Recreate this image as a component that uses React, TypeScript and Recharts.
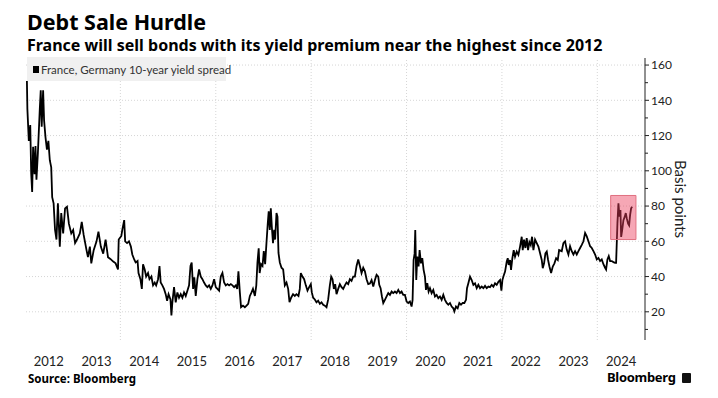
import React from 'react'
import {
  LineChart, Line, XAxis, YAxis, ReferenceLine, ReferenceArea,
} from 'recharts'

// France-Germany 10y spread, bp ([decimal year, bp])
const spread2012_13: [number, number][] = [
  [2012.04, 151], [2012.05, 135], [2012.08, 117], [2012.11, 126], [2012.13, 98.5],
  [2012.15, 88], [2012.17, 113.6], [2012.2, 98], [2012.22, 114], [2012.24, 95],
  [2012.27, 110], [2012.31, 135], [2012.33, 145.7], [2012.35, 125], [2012.38, 145.7],
  [2012.4, 128.7], [2012.43, 119], [2012.46, 112], [2012.49, 117], [2012.52, 106],
  [2012.55, 102], [2012.57, 85], [2012.6, 81.5], [2012.63, 66.4], [2012.66, 61],
  [2012.69, 81.5], [2012.73, 57], [2012.76, 76], [2012.8, 64.5], [2012.84, 78.7],
  [2012.88, 79.6], [2012.92, 70], [2012.97, 64.5], [2013.01, 66.4], [2013.05, 59],
  [2013.09, 61], [2013.15, 64.5], [2013.19, 71], [2013.23, 63.6], [2013.29, 55],
  [2013.32, 51], [2013.36, 57], [2013.39, 47.5], [2013.44, 55], [2013.5, 60],
  [2013.54, 65.5], [2013.59, 57], [2013.64, 53], [2013.69, 61], [2013.74, 51],
  [2013.79, 50], [2013.85, 48.5], [2013.9, 47.5], [2013.95, 44], [2013.965, 61],
]

const spread2014_16: [number, number][] = [
  [2014.02, 63], [2014.04, 66.5], [2014.08, 72], [2014.1, 60], [2014.14, 59],
  [2014.18, 60], [2014.22, 57], [2014.25, 52.5], [2014.29, 49.7], [2014.32, 48],
  [2014.36, 48.8], [2014.38, 42], [2014.42, 38.5], [2014.45, 33], [2014.475, 47],
  [2014.51, 44], [2014.54, 40], [2014.58, 42], [2014.61, 38.5], [2014.65, 40],
  [2014.685, 35], [2014.72, 36.6], [2014.75, 35], [2014.79, 38.5], [2014.82, 46],
  [2014.845, 36.6], [2014.88, 35], [2014.915, 33], [2014.95, 30], [2014.98, 26.3],
  [2015.01, 30], [2015.05, 27], [2015.07, 18], [2015.09, 25.4], [2015.125, 34],
  [2015.16, 25.4], [2015.195, 31], [2015.23, 28], [2015.265, 30], [2015.3, 28],
  [2015.335, 31], [2015.37, 29], [2015.405, 32], [2015.44, 35], [2015.47, 46],
  [2015.495, 48], [2015.525, 33], [2015.55, 39.5], [2015.58, 29], [2015.615, 38.5],
  [2015.65, 44], [2015.685, 40], [2015.72, 38.5], [2015.755, 36.6], [2015.79, 35],
  [2015.825, 34], [2015.86, 35], [2015.895, 33], [2015.93, 35], [2015.965, 38.5],
  [2016.0, 34], [2016.035, 33], [2016.07, 32], [2016.105, 40], [2016.14, 42],
  [2016.175, 36.6], [2016.21, 35], [2016.245, 35.7], [2016.28, 35], [2016.315, 35.7],
  [2016.35, 35], [2016.385, 34], [2016.42, 35], [2016.45, 33], [2016.475, 43],
  [2016.505, 31], [2016.53, 22.6], [2016.57, 23.5], [2016.61, 22.6], [2016.645, 23.5],
  [2016.68, 24.5], [2016.715, 29], [2016.75, 31], [2016.78, 33], [2016.82, 29],
  [2016.85, 35], [2016.874, 48], [2016.9, 56], [2016.92, 42], [2016.95, 47], [2016.98, 46],
]

const spread2017_19: [number, number][] = [
  [2017.007, 54.4], [2017.035, 47], [2017.063, 59], [2017.09, 70], [2017.11, 77],
  [2017.133, 66.5], [2017.154, 78.7], [2017.175, 68.4], [2017.2, 59], [2017.224, 66.5],
  [2017.245, 61], [2017.273, 76], [2017.294, 74], [2017.315, 53.4], [2017.343, 48],
  [2017.378, 45], [2017.413, 44], [2017.448, 35], [2017.483, 36.6], [2017.518, 33],
  [2017.546, 25.4], [2017.58, 28], [2017.62, 30], [2017.657, 29], [2017.692, 30],
  [2017.734, 29], [2017.762, 33], [2017.783, 42], [2017.818, 40], [2017.853, 38.5],
  [2017.888, 35], [2017.923, 32], [2017.958, 34], [2017.993, 35.7], [2018.014, 31],
  [2018.042, 28], [2018.077, 27], [2018.112, 25.4], [2018.147, 26.3], [2018.182, 24.5],
  [2018.217, 25.4], [2018.252, 24], [2018.287, 23.5], [2018.322, 22.6], [2018.357, 27],
  [2018.392, 35], [2018.42, 40], [2018.448, 38.5], [2018.476, 33], [2018.504, 35.7],
  [2018.532, 30], [2018.567, 33], [2018.602, 35.7], [2018.637, 34], [2018.672, 33],
  [2018.707, 35], [2018.742, 36.6], [2018.777, 35.7], [2018.812, 38.5], [2018.847, 37.5],
  [2018.882, 40], [2018.917, 40], [2018.952, 46], [2018.987, 49.7], [2019.022, 46],
  [2019.057, 42], [2019.092, 45], [2019.127, 43], [2019.162, 38.5], [2019.197, 35.7],
  [2019.232, 36], [2019.267, 38], [2019.302, 34.3], [2019.337, 38], [2019.372, 41],
  [2019.407, 40], [2019.428, 35.3], [2019.456, 33.4], [2019.484, 28.7], [2019.512, 25],
  [2019.547, 26.8], [2019.582, 28.7], [2019.617, 30.6], [2019.652, 29.6], [2019.687, 31.5],
  [2019.722, 30.6], [2019.757, 31.5], [2019.792, 30.6], [2019.827, 32.4], [2019.862, 30.6],
  [2019.896, 31.5], [2019.931, 29.6], [2019.966, 29.6],
]

const spread2020_22: [number, number][] = [
  [2020.001, 25.8], [2020.036, 25], [2020.071, 25.8], [2020.106, 23], [2020.127, 26.8],
  [2020.148, 49.4], [2020.169, 53], [2020.183, 66.4], [2020.204, 38], [2020.225, 51.3],
  [2020.253, 45.7], [2020.274, 55], [2020.302, 47.5], [2020.33, 50.4], [2020.358, 43.8],
  [2020.386, 40], [2020.407, 32.4], [2020.435, 36.2], [2020.463, 31.5], [2020.491, 33.4],
  [2020.526, 30.6], [2020.561, 32.4], [2020.596, 28.7], [2020.631, 29.6], [2020.666, 27.7],
  [2020.701, 28.7], [2020.736, 26.8], [2020.771, 29.6], [2020.806, 26.8], [2020.841, 25],
  [2020.876, 24], [2020.911, 25], [2020.946, 23], [2020.981, 22], [2021.002, 20.2],
  [2021.037, 23], [2021.072, 22], [2021.107, 25], [2021.142, 24], [2021.177, 25],
  [2021.212, 25], [2021.247, 26.8], [2021.268, 33.4], [2021.296, 36.2], [2021.331, 40],
  [2021.366, 38], [2021.401, 35.3], [2021.436, 36.2], [2021.471, 33.4], [2021.506, 35.3],
  [2021.541, 33.4], [2021.576, 34.3], [2021.611, 33.4], [2021.646, 34.7], [2021.681, 33.4],
  [2021.716, 34.3], [2021.751, 34], [2021.786, 35.3], [2021.821, 34.3], [2021.856, 36.2],
  [2021.891, 35.3], [2021.926, 37], [2021.961, 38], [2021.989, 32], [2022.01, 38],
  [2022.031, 40], [2022.066, 42.8], [2022.101, 48.5], [2022.122, 50.4], [2022.142, 46.6],
  [2022.17, 49.4], [2022.191, 43.8], [2022.219, 50.4], [2022.247, 55], [2022.275, 51.3],
  [2022.31, 54.2], [2022.345, 52.3], [2022.38, 57], [2022.415, 62.6], [2022.436, 55],
  [2022.464, 61], [2022.492, 56.2], [2022.52, 61.8], [2022.548, 55], [2022.576, 59.6],
  [2022.604, 57.9], [2022.632, 62.6], [2022.66, 55], [2022.695, 61], [2022.73, 59],
  [2022.765, 57], [2022.8, 53.2], [2022.835, 49.4], [2022.856, 44.7], [2022.884, 47.5],
  [2022.912, 53.2], [2022.94, 54.2], [2022.968, 49.4], [2022.996, 45.7],
]

const spread2023_24: [number, number][] = [
  [2023.031, 42], [2023.066, 45.7], [2023.101, 47.5], [2023.136, 50.4], [2023.171, 49.4],
  [2023.199, 55], [2023.254, 54.4], [2023.289, 59], [2023.324, 60], [2023.359, 55.3],
  [2023.394, 52.5], [2023.429, 57.2], [2023.464, 54.4], [2023.499, 52.5], [2023.534, 54.4],
  [2023.569, 52.5], [2023.604, 54.4], [2023.639, 56.2], [2023.674, 58], [2023.709, 60],
  [2023.744, 64.7], [2023.779, 62.8], [2023.814, 60], [2023.849, 57.2], [2023.884, 56.2],
  [2023.919, 54.4], [2023.954, 52.5], [2023.989, 49.7], [2024.024, 50.6], [2024.058, 48.8],
  [2024.093, 49.7], [2024.128, 47], [2024.163, 45], [2024.184, 44], [2024.212, 49.7],
  [2024.24, 51.6], [2024.268, 48.8], [2024.303, 48.8], [2024.338, 48.2], [2024.373, 47.8],
  [2024.394, 47.8], [2024.408, 59], [2024.422, 70.3], [2024.443, 81.5], [2024.464, 74],
  [2024.485, 77.8], [2024.5, 62.5], [2024.52, 66], [2024.548, 72], [2024.576, 74],
  [2024.597, 76], [2024.618, 73], [2024.646, 70], [2024.667, 69], [2024.688, 75],
  [2024.709, 78.7], [2024.73, 79.6],
]

const yearLabels = [2012, 2013, 2014, 2015, 2016, 2017, 2018, 2019, 2020, 2021, 2022, 2023, 2024]
const gridYears = [2014, 2016, 2018, 2020, 2022, 2024]
const yMajor = [20, 40, 60, 80, 100, 120, 140, 160]
const yTicks = [10, 20, 30, 40, 50, 60, 70, 80, 90, 100, 110, 120, 130, 140, 150, 160]
// highlighted window: snap election
const highlight = { x1: 2024.28, x2: 2024.81, y1: 61, y2: 86 }

const data = [...spread2012_13, ...spread2014_16, ...spread2017_19, ...spread2020_22, ...spread2023_24]
  .map(([t, v]) => ({ t, v }))

const FONT = 'Lato, "Open Sans", sans-serif'
const TITLE_FONT = '"Noto Sans", Roboto, sans-serif'

// eslint-disable-next-line @typescript-eslint/no-explicit-any
const YTick = ({ x, y, payload }: any) => {
  const major = payload.value % 20 === 0
  return (
    <g>
      <line x1={x} x2={x + (major ? 4 : 3)} y1={y} y2={y} stroke="#222" strokeWidth={1} />
      {major && (
        <text x={x + 6} y={y} dy="0.36em" fill="#222" fontSize={12} fontFamily={FONT}>
          {payload.value}
        </text>
      )}
    </g>
  )
}

export default function App() {
  return (
    <div style={{ position: 'absolute', left: 0, top: 0, width: 718, height: 398, background: '#fff', overflow: 'hidden' }}>
      <LineChart
        width={718}
        height={398}
        data={data}
        margin={{ top: 58, right: 0, bottom: 28, left: 25 }}
      >
        {gridYears.map(yr => (
          <ReferenceLine key={`gx${yr}`} x={yr} stroke="#d6d6d6" strokeDasharray="1 2" />
        ))}
        {yMajor.map(v => (
          <ReferenceLine key={`gy${v}`} y={v} stroke="#d6d6d6" strokeDasharray="1 2" />
        ))}
        <XAxis
          dataKey="t"
          type="number"
          domain={[2012, 2025]}
          allowDataOverflow
          ticks={yearLabels.map(y => y + 0.5)}
          tickFormatter={(v: number) => String(Math.floor(v))}
          axisLine={false}
          tickLine={false}
          tickSize={0}
          tickMargin={17}
          height={30}
          interval={0}
          tick={{ fill: '#222', fontSize: 13, fontFamily: FONT }}
        />
        <YAxis
          orientation="right"
          type="number"
          domain={[4, 164]}
          allowDataOverflow
          ticks={yTicks}
          interval={0}
          width={73}
          axisLine={{ stroke: '#222', strokeWidth: 1 }}
          tickLine={false}
          tickSize={0}
          tickMargin={0}
          tick={YTick}
        />
        <Line
          type="linear"
          dataKey="v"
          stroke="#000"
          strokeWidth={1.8}
          dot={false}
          isAnimationActive={false}
        />
        <ReferenceArea
          x1={highlight.x1}
          x2={highlight.x2}
          y1={highlight.y1}
          y2={highlight.y2}
          fill="#ec3c5a"
          fillOpacity={0.45}
          stroke="#e07080"
          strokeWidth={1}
          zIndex={1000}
        />
      </LineChart>

      <div style={{ position: 'absolute', left: 27, top: 10, lineHeight: '24px', fontFamily: TITLE_FONT, fontWeight: 700, fontSize: 21.5, color: '#000', whiteSpace: 'nowrap' }}>
        Debt Sale Hurdle
      </div>
      <div style={{ position: 'absolute', left: 27, top: 36, lineHeight: '18px', fontFamily: TITLE_FONT, fontWeight: 700, fontSize: 16, color: '#000', whiteSpace: 'nowrap' }}>
        France will sell bonds with its yield premium near the highest since 2012
      </div>
      <div style={{ position: 'absolute', left: 27, top: 57, width: 199, height: 24, background: '#f0f0f0', display: 'flex', alignItems: 'center', fontFamily: FONT, fontSize: 11.5, color: '#333', whiteSpace: 'nowrap' }}>
        <span style={{ display: 'block', flexShrink: 0, width: 6, height: 7, background: '#000', marginLeft: 6, marginRight: 2 }} />
        <span>France, Germany 10-year yield spread</span>
      </div>
      <div style={{ position: 'absolute', left: 681, top: 199, transform: 'translate(-50%, -50%) rotate(90deg)', fontFamily: FONT, fontSize: 15, color: '#222', whiteSpace: 'nowrap' }}>
        Basis points
      </div>
      <div style={{ position: 'absolute', left: 28, top: 372, lineHeight: '13px', fontFamily: TITLE_FONT, fontWeight: 700, fontSize: 11.5, color: '#000', whiteSpace: 'nowrap' }}>
        Source: Bloomberg
      </div>
      <div style={{ position: 'absolute', left: 607, top: 371, height: 13, display: 'flex', alignItems: 'center', lineHeight: '13px', fontFamily: TITLE_FONT, fontWeight: 700, fontSize: 13, color: '#000', whiteSpace: 'nowrap', letterSpacing: -0.3 }}>
        <span>Bloomberg</span>
        <span style={{ display: 'block', flexShrink: 0, width: 9, height: 10, background: '#111', marginLeft: 6, borderRadius: 1 }} />
      </div>
    </div>
  )
}
